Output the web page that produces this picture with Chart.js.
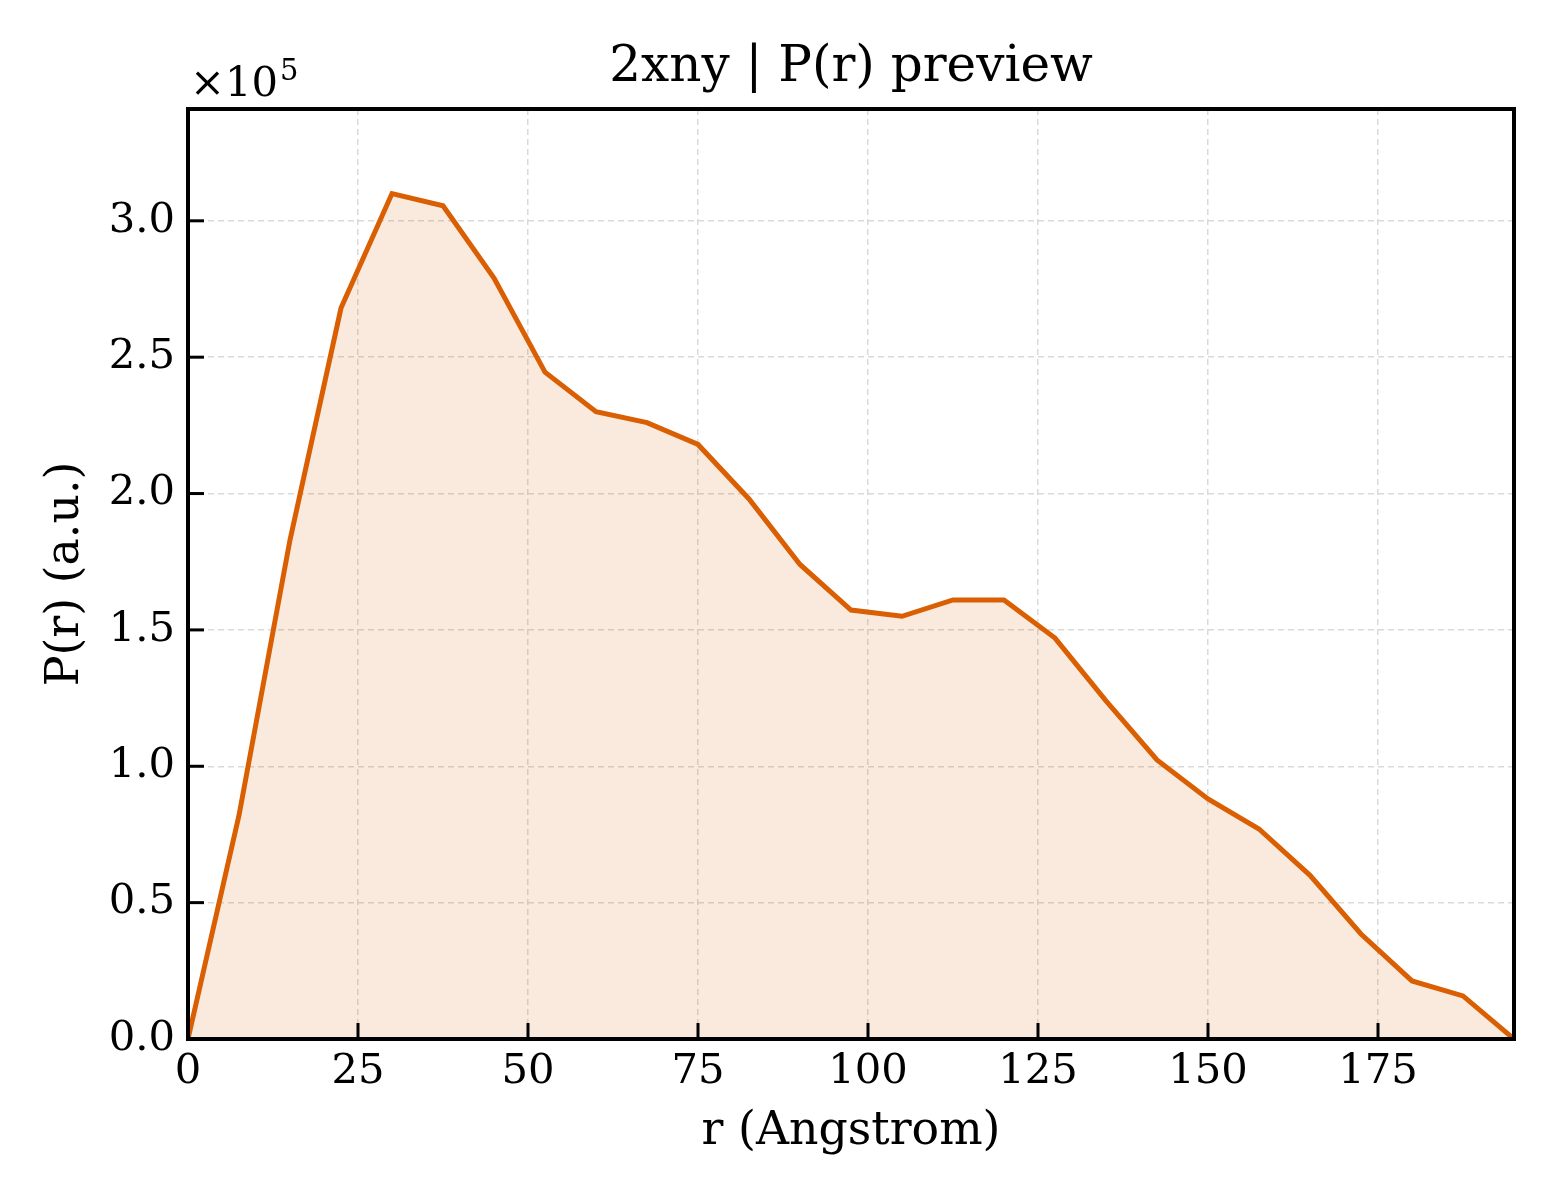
<!DOCTYPE html>
<html>
<head>
<meta charset="utf-8">
<script src="https://cdn.jsdelivr.net/npm/chart.js@4.4.1/dist/chart.umd.min.js"></script>
<style>
  html, body { margin: 0; padding: 0; background: #ffffff; }
  #wrap { width: 1560px; height: 1200px; }
</style>
</head>
<body>
<div id="wrap"><canvas id="c" width="1560" height="1200"></canvas></div>
<script>
// ---- data (r in Angstrom, P(r) in a.u.) ----
const rValues = [0, 7.5, 15, 22.5, 30, 37.5, 45, 52.5, 60, 67.5, 75, 82.5, 90, 97.5,
                 105, 112.5, 120, 127.5, 135, 142.5, 150, 157.5, 165, 172.5, 180, 187.5, 195];
const prValues = [0, 82000, 183000, 268000, 310000, 305500, 279000, 244500, 230000, 226000,
                  218000, 198000, 174000, 157300, 155000, 161000, 161000, 147000, 124000,
                  102300, 88000, 77000, 60000, 38500, 21300, 15800, 0];
const xTickValues = [0, 25, 50, 75, 100, 125, 150, 175];
const yTickValues = [0, 50000, 100000, 150000, 200000, 250000, 300000];
const chartTitle = '2xny | P(r) preview';
const xLabel = 'r (Angstrom)';
const yLabel = 'P(r) (a.u.)';
const yScaleExponent = 5;

const FONT = '"DejaVu Serif", "Liberation Serif", serif';
const LINE_COLOR = '#d95f02';
const FILL_COLOR = 'rgba(217,95,2,0.13)';
const GRID_COLOR = '#dadada';

const points = rValues.map((r, i) => ({ x: r, y: prValues[i] }));

const framePlugin = {
  id: 'frame',
  afterDraw(chart) {
    const { ctx, chartArea: a, scales } = chart;
    ctx.save();
    ctx.setLineDash([]);
    ctx.globalAlpha = 1;
    ctx.fillStyle = '#000000';
    ctx.strokeStyle = '#000000';
    // inward ticks (positions from the library's scales)
    const tl = 16, tw = 3;
    for (let i = 0; i < xTickValues.length; i++) {
      const px = scales.x.getPixelForValue(xTickValues[i]);
      ctx.fillRect(px - tw / 2, a.bottom - tl, tw, tl);
    }
    for (let i = 0; i < yTickValues.length; i++) {
      const py = scales.y.getPixelForValue(yTickValues[i]);
      ctx.fillRect(a.left, py - tw / 2, tl, tw);
    }
    // frame
    ctx.lineWidth = 4;
    ctx.strokeRect(a.left, a.top, a.right - a.left, a.bottom - a.top);
    // title
    ctx.textAlign = 'center';
    ctx.textBaseline = 'middle';
    ctx.font = '50px ' + FONT;
    ctx.fillText(chartTitle, (a.left + a.right) / 2, 68);
    // multiplier
    ctx.textAlign = 'left';
    ctx.textBaseline = 'alphabetic';
    ctx.font = '41.7px ' + FONT;
    const base = '\u00d710';
    ctx.fillText(base, a.left + 2, 96);
    const w = ctx.measureText(base).width;
    ctx.font = '29px ' + FONT;
    ctx.fillText(String(yScaleExponent), a.left + 2 + w + 2, 80);
    ctx.restore();
  }
};

new Chart(document.getElementById('c'), {
  type: 'line',
  data: {
    datasets: [{
      data: points,
      borderColor: LINE_COLOR,
      backgroundColor: FILL_COLOR,
      borderWidth: 5,
      fill: 'origin',
      pointRadius: 0,
      tension: 0,
      borderJoinStyle: 'miter'
    }]
  },
  options: {
    responsive: false,
    devicePixelRatio: 1,
    animation: false,
    layout: { padding: { top: 109, right: 46, left: 0, bottom: 0 } },
    plugins: { legend: { display: false }, tooltip: { enabled: false }, title: { display: false } },
    scales: {
      x: {
        type: 'linear',
        min: 0, max: 195,
        afterBuildTicks(scale) { scale.ticks = xTickValues.map(v => ({ value: v })); },
        afterFit(scale) { scale.height = 161; },
        ticks: {
          color: '#000',
          font: { family: FONT, size: 41.7 },
          padding: 8,
          maxRotation: 0,
          autoSkip: false,
          callback: v => String(v)
        },
        grid: { color: GRID_COLOR, lineWidth: 1.5, drawTicks: false },
        border: { display: false, dash: [6, 4] },
        title: { display: true, text: xLabel, color: '#000', font: { family: FONT, size: 45.8 }, padding: { top: 0, bottom: 40 } }
      },
      y: {
        type: 'linear',
        min: 0, max: 341000,
        afterBuildTicks(scale) { scale.ticks = yTickValues.map(v => ({ value: v })); },
        afterFit(scale) { scale.width = 188; },
        ticks: {
          color: '#000',
          font: { family: FONT, size: 41.7 },
          padding: 13,
          autoSkip: false,
          callback: v => (v / Math.pow(10, yScaleExponent)).toFixed(1)
        },
        grid: { color: GRID_COLOR, lineWidth: 1.5, drawTicks: false },
        border: { display: false, dash: [6, 4] },
        title: { display: true, text: yLabel, color: '#000', font: { family: FONT, size: 45.8 }, padding: { top: 39, bottom: 0 } }
      }
    }
  },
  plugins: [framePlugin]
});
</script>
</body>
</html>
